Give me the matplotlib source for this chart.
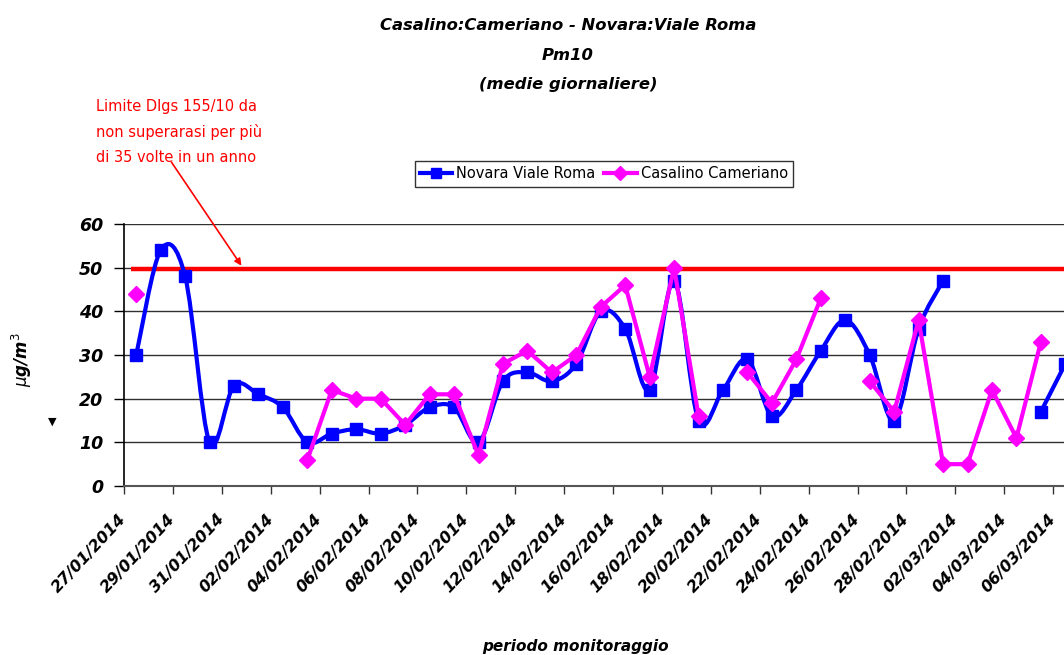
import matplotlib
matplotlib.use("Agg")
import matplotlib.pyplot as plt
import numpy as np
from matplotlib.path import Path
from matplotlib.patches import PathPatch
from matplotlib.lines import Line2D

# ---------------- data ----------------
dates = ["27/01/2014", "28/01/2014", "29/01/2014", "30/01/2014", "31/01/2014",
         "01/02/2014", "02/02/2014", "03/02/2014", "04/02/2014", "05/02/2014",
         "06/02/2014", "07/02/2014", "08/02/2014", "09/02/2014", "10/02/2014",
         "11/02/2014", "12/02/2014", "13/02/2014", "14/02/2014", "15/02/2014",
         "16/02/2014", "17/02/2014", "18/02/2014", "19/02/2014", "20/02/2014",
         "21/02/2014", "22/02/2014", "23/02/2014", "24/02/2014", "25/02/2014",
         "26/02/2014", "27/02/2014", "28/02/2014", "01/03/2014", "02/03/2014",
         "03/03/2014", "04/03/2014", "05/03/2014", "06/03/2014"]

novara = [30, 54, 48, 10, 23, 21, 18, 10, 12, 13, 12, 14, 18, 18, 10, 24, 26, 24,
          28, 40, 36, 22, 47, 15, 22, 29, 16, 22, 31, 38, 30, 15, 36, 47,
          None, None, None, 17, 28]

casalino = [44, None, None, None, None, None, None, 6, 22, 20, 20, 14, 21, 21, 7,
            28, 31, 26, 30, 41, 46, 25, 50, 16, None, 26, 19, 29, 43, None,
            24, 17, 38, 5, 5, 22, 11, 33, None]

limit_value = 49.6
yticks = [0, 10, 20, 30, 40, 50, 60]

# ---------------- figure ----------------
W, H = 1064, 655
fig = plt.figure(figsize=(W / 100, H / 100), dpi=100)
px_day = 24.45
x0_px, y0_px, ytop_px = 124, 486, 224
xmin, xmax = -0.5, 40
ax = fig.add_axes([x0_px / W, (H - y0_px) / H,
                   (xmax - xmin) * px_day / W, (y0_px - ytop_px) / H])
ax.set_xlim(xmin, xmax)
ax.set_ylim(0, 60)

tfont = dict(family="DejaVu Sans", weight="bold", style="oblique")

# grid
for v in yticks[1:]:
    ax.axhline(v, color="#303030", lw=1.0, zorder=1)

# limit line
ax.plot([(131 - x0_px) / px_day - 0.5, xmax], [limit_value, limit_value],
        color="#ff0000", lw=3.2, zorder=2, solid_capstyle="butt")


def smooth_path(xs, ys):
    verts = [(xs[0], ys[0])]
    codes = [Path.MOVETO]
    n = len(xs)
    for i in range(n - 1):
        p0 = np.array([xs[max(i - 1, 0)], ys[max(i - 1, 0)]], float)
        p1 = np.array([xs[i], ys[i]], float)
        p2 = np.array([xs[i + 1], ys[i + 1]], float)
        p3 = np.array([xs[min(i + 2, n - 1)], ys[min(i + 2, n - 1)]], float)
        c1 = p1 + (p2 - p0) / 6.0
        c2 = p2 - (p3 - p1) / 6.0
        verts += [tuple(c1), tuple(c2), tuple(p2)]
        codes += [Path.CURVE4] * 3
    return Path(verts, codes)


def runs(vals):
    out, cur = [], []
    for i, v in enumerate(vals):
        if v is None:
            if cur:
                out.append(cur)
            cur = []
        else:
            cur.append(i)
    if cur:
        out.append(cur)
    return out


blue = "#0000ff"
pink = "#ff00ff"

# Novara (smoothed)
for r in runs(novara):
    xs = list(r)
    ys = [novara[i] for i in r]
    if len(xs) > 1:
        ax.add_patch(PathPatch(smooth_path(xs, ys), fill=False, ec=blue, lw=3,
                               zorder=3, capstyle="round", joinstyle="round"))
nx = [i for i, v in enumerate(novara) if v is not None]
ny = [novara[i] for i in nx]
ax.plot(nx, ny, ls="none", marker="s", ms=8.5, mfc=blue, mec=blue, zorder=4)

# Casalino (straight)
cvals = [np.nan if v is None else v for v in casalino]
ax.plot(range(len(cvals)), cvals, color=pink, lw=3, marker="D", ms=8.5,
        mfc=pink, mec=pink, zorder=5)

# axes styling
for s in ["top", "right"]:
    ax.spines[s].set_visible(False)
ax.spines["left"].set_color("#000000")
ax.spines["bottom"].set_color("#555555")
ax.spines["left"].set_linewidth(1.2)
ax.spines["bottom"].set_linewidth(1.5)

ax.set_yticks(yticks)
ax.set_yticklabels([str(v) for v in yticks], fontsize=12.5, **tfont)
ax.tick_params(axis="y", length=7, width=1, pad=8, direction="out")

tick_idx = list(range(0, len(dates), 2))
ax.set_xticks([i - 0.5 for i in tick_idx])
ax.set_xticklabels([dates[i] for i in tick_idx], rotation=47, ha="right",
                   va="center", rotation_mode="anchor", fontsize=11.5, **tfont)
ax.tick_params(axis="x", length=6, width=1, pad=16, direction="out",
               color="#333333")

# titles
fig.text(568 / W, 1 - 25 / H, "Casalino:Cameriano - Novara:Viale Roma",
         ha="center", va="center", fontsize=11.8, **tfont)
fig.text(568 / W, 1 - 55 / H, "Pm10", ha="center", va="center",
         fontsize=11.8, **tfont)
fig.text(568 / W, 1 - 85 / H, "(medie giornaliere)", ha="center",
         va="center", fontsize=11.8, **tfont)

# axis titles
fig.text(22 / W, 1 - 360 / H, r"$\mu$g/m$^3$", rotation=90, ha="center",
         va="center", fontsize=12, **tfont)
fig.text(575 / W, 1 - 646 / H, "periodo monitoraggio", ha="center",
         va="center", fontsize=11, **tfont)
fig.text(52 / W, 1 - 422 / H, "\u25bc", ha="center", va="center",
         fontsize=8, color="black")

# annotation
fig.text(96 / W, 1 - 107 / H, "Limite Dlgs 155/10 da", ha="left",
         va="center", fontsize=10.5, color="#ff0000")
fig.text(96 / W, 1 - 132 / H, "non superarasi per più", ha="left",
         va="center", fontsize=10.5, color="#ff0000")
fig.text(96 / W, 1 - 157 / H, "di 35 volte in un anno", ha="left",
         va="center", fontsize=10.5, color="#ff0000")
fig.add_artist(matplotlib.patches.FancyArrowPatch(
    (170 / W, 1 - 160 / H), (243 / W, 1 - 268 / H), transform=fig.transFigure,
    arrowstyle="-|>", mutation_scale=10, color="#ff0000", lw=1.2))

# legend
handles = [Line2D([], [], color=blue, lw=3, marker="s", ms=7, mfc=blue, mec=blue),
           Line2D([], [], color=pink, lw=3, marker="D", ms=7, mfc=pink, mec=pink)]
leg = fig.legend(handles, ["Novara Viale Roma", "Casalino Cameriano"],
                 loc="center", bbox_to_anchor=(604 / W, 1 - 174 / H), ncol=2,
                 frameon=True, fancybox=False, edgecolor="black",
                 fontsize=10.5, handlelength=2.2, handletextpad=0.3,
                 columnspacing=0.6, borderpad=0.35)
leg.get_frame().set_linewidth(1.0)

fig.savefig("out.png", dpi=100)
